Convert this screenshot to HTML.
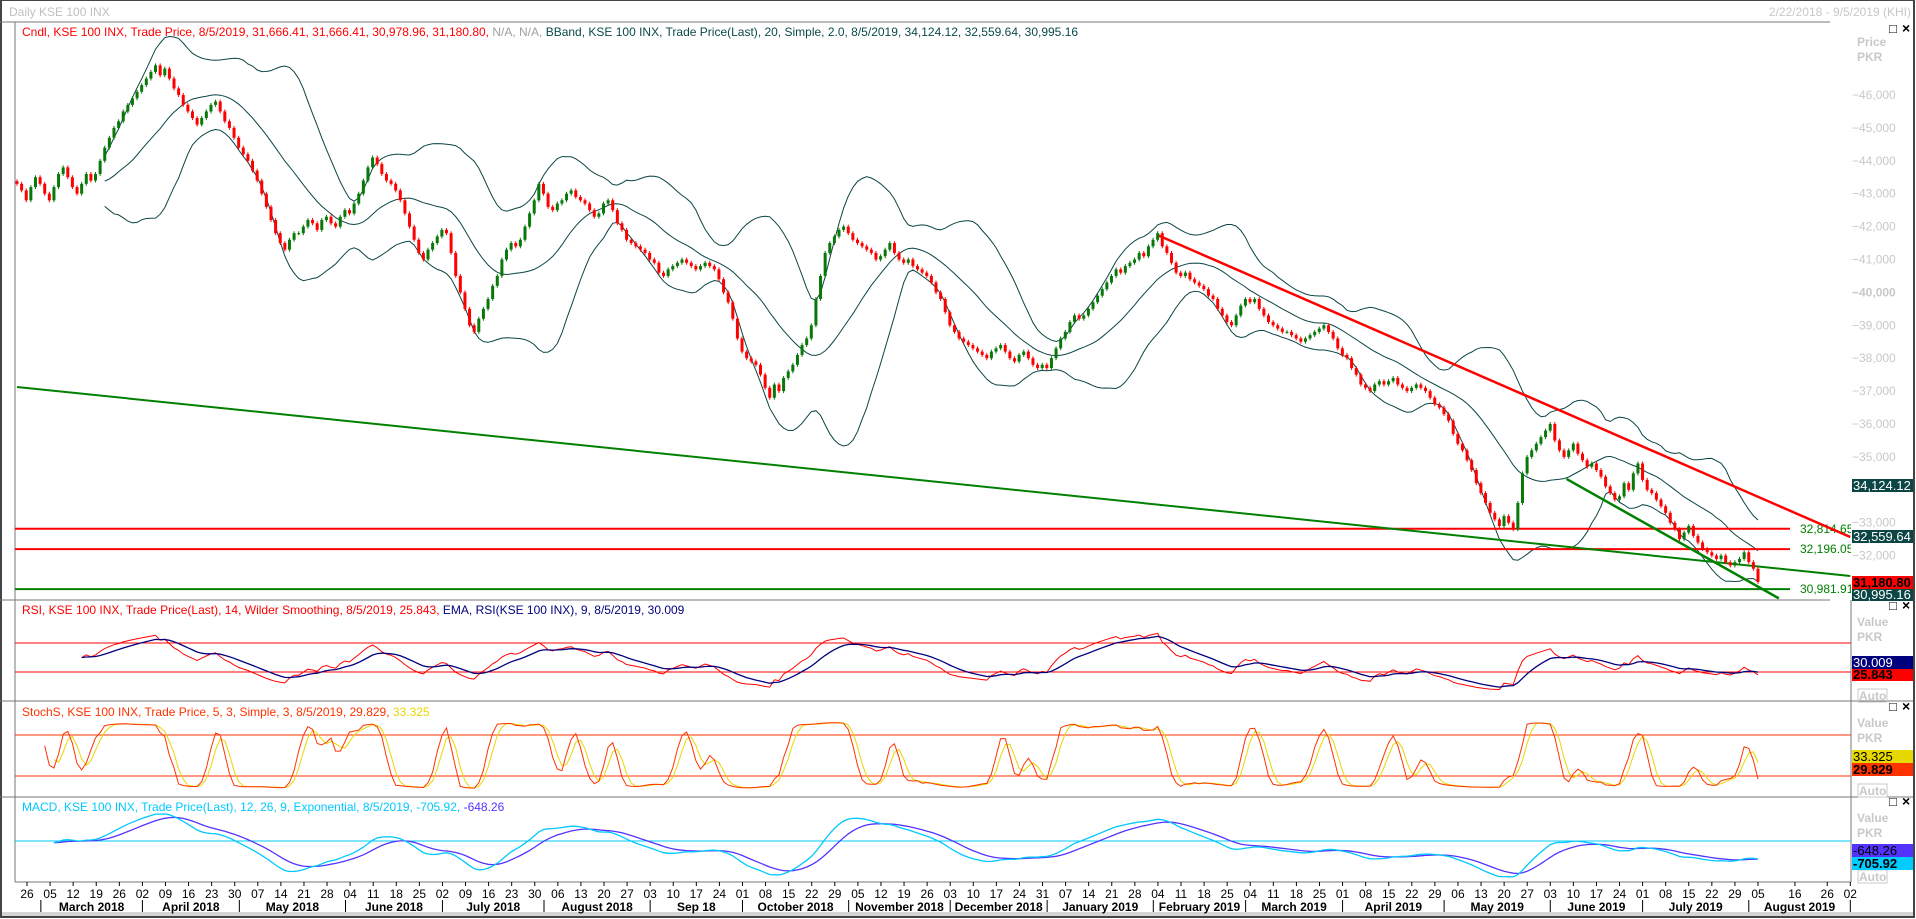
<!DOCTYPE html>
<html><head><meta charset="utf-8"><style>
html,body{margin:0;padding:0;background:#fff;}
svg{display:block;font-family:"Liberation Sans",sans-serif;}
</style></head><body>
<svg id="chart" width="1916" height="919" viewBox="0 0 1916 919" xmlns="http://www.w3.org/2000/svg">
<defs>
<clipPath id="cpMain"><rect x="15" y="23" width="1836" height="577"/></clipPath>
<clipPath id="cpRsi"><rect x="15" y="601" width="1836" height="100"/></clipPath>
<clipPath id="cpSto"><rect x="15" y="702" width="1836" height="95"/></clipPath>
<clipPath id="cpMacd"><rect x="15" y="798" width="1836" height="84"/></clipPath>
</defs>
<rect x="0" y="0" width="1916" height="919" fill="#fff"/>
<rect x="1" y="0" width="1913" height="917" fill="none" stroke="#444" stroke-width="2"/>
<text x="9" y="16" font-size="12" fill="#c0c0c0">Daily KSE 100 INX</text>
<text x="1911" y="16" font-size="12" fill="#c8c8c8" text-anchor="end">2/22/2018 - 9/5/2019 (KHI)</text>
<line x1="0" y1="22" x2="1830" y2="22" stroke="#777" stroke-width="1"/>
<line x1="15" y1="22" x2="15" y2="882" stroke="#777" stroke-width="1"/>
<line x1="1851" y1="600" x2="1851" y2="882" stroke="#777" stroke-width="1"/>
<line x1="0" y1="600" x2="1830" y2="600" stroke="#777"/>
<line x1="0" y1="701" x2="1913" y2="701" stroke="#777"/>
<line x1="0" y1="797" x2="1913" y2="797" stroke="#777"/>
<line x1="15" y1="882" x2="1851" y2="882" stroke="#777"/>
<rect x="2" y="912" width="1911" height="4" fill="#d4d4d4"/>
<text x="22" y="36" font-size="12"><tspan fill="#ff0000">Cndl, KSE 100 INX, Trade Price, 8/5/2019, 31,666.41, 31,666.41, 30,978.96, 31,180.80, </tspan><tspan fill="#a0a0a0">N/A, N/A, </tspan><tspan fill="#0b4a4a"> BBand, KSE 100 INX, Trade Price(Last),  20, Simple, 2.0, 8/5/2019, 34,124.12, 32,559.64, 30,995.16</tspan></text>
<text x="22" y="614" font-size="12"><tspan fill="#ff0000">RSI, KSE 100 INX, Trade Price(Last),  14, Wilder Smoothing, 8/5/2019, 25.843, </tspan><tspan fill="#00007f"> EMA, RSI(KSE 100 INX),  9, 8/5/2019, 30.009</tspan></text>
<text x="22" y="716" font-size="12"><tspan fill="#ff3300">StochS, KSE 100 INX, Trade Price,  5, 3, Simple, 3, 8/5/2019, 29.829, </tspan><tspan fill="#e6d800">33.325</tspan></text>
<text x="22" y="811" font-size="12"><tspan fill="#00c8ff">MACD, KSE 100 INX, Trade Price(Last),  12, 26, 9, Exponential, 8/5/2019, -705.92, </tspan><tspan fill="#5533ff">-648.26</tspan></text>
<g id="gMain" clip-path="url(#cpMain)"></g>
<g id="gRsi" clip-path="url(#cpRsi)"></g>
<g id="gSto" clip-path="url(#cpSto)"></g>
<g id="gMacd" clip-path="url(#cpMacd)"></g>
<g id="gAxis"></g>
<g id="gRight"></g>
</svg>
<script>
// ---- data (closes in hundreds of index points) ----
const closes = [
433,431,428,432,435,433,430,428,432,436,438,435,432,430,433,436,434,
436,440,444,447,450,452,455,457,459,461,463,465,467,469,466,468,
465,462,460,457,455,453,451,453,455,457,458,455,452,450,447,444,442,440,437,434,430,426,422,418,415,413,416,418,
418,420,422,421,419,422,423,421,420,423,425,424,427,430,434,438,441,439,436,434,433,431,428,424,420,416,412,410,
413,415,417,419,418,412,405,400,395,390,388,392,395,398,402,405,410,413,415,414,416,420,424,428,433,
430,426,425,427,428,430,431,429,428,427,425,423,424,427,428,425,421,419,416,415,414,413,412,410,409,
406,405,407,408,409,410,409,408,407,408,409,408,407,404,400,397,392,386,382,380,379,378,375,371,368,372,370,
374,376,378,381,384,386,390,398,405,412,415,417,419,420,418,416,415,414,413,412,410,411,413,415,412,
410,409,410,408,407,406,405,403,400,398,394,390,388,386,385,384,383,382,381,380,382,383,384,382,380,
379,381,382,380,378,377,378,377,380,383,386,388,391,393,392,393,395,397,399,401,403,405,407,406,408,
409,410,412,411,414,416,418,
414,412,409,406,405,406,404,403,402,401,399,398,395,393,391,390,393,396,398,397,398,395,393,391,390,
389,388,388,387,386,385,386,387,388,389,390,388,386,383,381,380,377,375,372,371,370,372,373,372,373,
374,372,371,370,371,372,371,370,368,366,365,363,361,357,354,352,349,346,342,339,336,333,331,329,332,330,328,
336,345,350,352,354,356,358,360,355,352,350,352,354,351,349,347,348,346,344,341,339,337,338,342,340,
345,348,343,340,339,337,335,333,330,328,325,327,329,326,324,322,321,320,319,320,318,317,318,319,321,
318,316,312];
const priceTicks = [46000,45000,44000,43000,42000,41000,40000,39000,38000,37000,36000,35000,33000,32000];
const hLevels = [32814.65, 32196.05];
const hLevelLabels = ["32,814.65","32,196.05"];
const supportLevel = [30981.91];
const supportLabel = ["30,981.91"];
const trendFrac = [0, 1.053];
const trendPrice = [37125, 31380];
const redTrendStart = [0.655, 41745];
const redTrendEnd = [1.053, 32565];
const greenShortStart = [0.890, 34330];
const greenShortEnd = [1.012, 30700];
const dayLabels = ["26","05","12","19","26","02","09","16","23","30","07","14","21","28","04","11","18","25","02","09","16","23","30","06","13","20","27","03","10","17","24","01","08","15","22","29","05","12","19","26","03","10","17","24","31","07","14","21","28","04","11","18","25","04","11","18","25","01","08","15","22","29","06","13","20","27","03","10","17","24","01","08","15","22","29","05","16","26","02"];
const dayWeeks = [0,1,2,3,4,5,6,7,8,9,10,11,12,13,14,15,16,17,18,19,20,21,22,23,24,25,26,27,28,29,30,31,32,33,34,35,36,37,38,39,40,41,42,43,44,45,46,47,48,49,50,51,52,53,54,55,56,57,58,59,60,61,62,63,64,65,66,67,68,69,70,71,72,73,74,75,76.6,78,79];
const monthNames = ["March 2018","April 2018","May 2018","June 2018","July 2018","August 2018","Sep 18","October 2018","November 2018","December 2018","January 2019","February 2019","March 2019","April 2019","May 2019","June 2019","July 2019","August 2019"];
const monthStartWeeks = [0.6,5,9.2,13.8,18,22.4,27,31,35.6,40,44.2,48.8,52.8,57,61.4,66,70,74.6,79];

const NS="http://www.w3.org/2000/svg";
function mk(tag, attrs, parent){const e=document.createElementNS(NS,tag);for(const k in attrs)e.setAttribute(k,attrs[k]);parent.appendChild(e);return e;}
const n=closes.length;
const X0=17, XL=1758;
const step=(XL-X0)/(n-1);
const xi=i=>X0+i*step;
const xf=f=>X0+f*(n-1)*step;
const xw=w=>27+w*23.08;
const py=p=>95+(46000-p)*0.0329;
const ry=v=>672-(v-30)*0.725;
const sy=v=>776-(v-20)*0.683;
const my=v=>841-v*0.031;

const C=closes.map(v=>v*100);
const O=C.map((c,i)=>i?C[i-1]:c+80);
const H=C.map((c,i)=>Math.max(c,O[i])+60);
const L=C.map((c,i)=>Math.min(c,O[i])-60);

const gM=document.getElementById('gMain');
const mid=[],up=[],lo=[];
for(let i=19;i<n;i++){let s=0;for(let j=i-19;j<=i;j++)s+=C[j];const m=s/20;let v=0;for(let j=i-19;j<=i;j++)v+=(C[j]-m)**2;const sd=Math.sqrt(v/20);mid.push([i,m]);up.push([i,m+2*sd]);lo.push([i,m-2*sd]);}
const pts=(a,fy)=>a.map(p=>xi(p[0]).toFixed(1)+","+fy(p[1]).toFixed(1)).join(" ");
[[up,'bband-upper'],[mid,'bband-middle'],[lo,'bband-lower']].forEach(([a,nm])=>{
 const e=mk('polyline',{points:pts(a,py),fill:'none',stroke:'#0b4545','stroke-width':1},gM);
 
 
});
hLevels.forEach((v,k)=>{
 const e=mk('line',{x1:15,x2:1790,y1:py(v),y2:py(v),stroke:'#ff0000','stroke-width':2},gM);
 
 
 const t=mk('text',{x:1800,y:py(v)+4,'font-size':12,fill:'#008000'},gM);t.textContent=hLevelLabels[k];
 
 
});
supportLevel.forEach((v,k)=>{
 const e=mk('line',{x1:15,x2:1790,y1:py(v),y2:py(v),stroke:'#008000','stroke-width':2},gM);
 
 
 const t=mk('text',{x:1800,y:py(v)+4,'font-size':12,fill:'#008000'},gM);t.textContent=supportLabel[k];
 
 
});
let tl=mk('line',{x1:xf(trendFrac[0]),y1:py(trendPrice[0]),x2:xf(trendFrac[1]),y2:py(trendPrice[1]),stroke:'#008000','stroke-width':2},gM);


tl=mk('line',{x1:xf(redTrendStart[0]),y1:py(redTrendStart[1]),x2:xf(redTrendEnd[0]),y2:py(redTrendEnd[1]),stroke:'#ff0000','stroke-width':2.5},gM);


tl=mk('line',{x1:xf(greenShortStart[0]),y1:py(greenShortStart[1]),x2:xf(greenShortEnd[0]),y2:py(greenShortEnd[1]),stroke:'#008000','stroke-width':2.5},gM);


for(let i=0;i<n;i++){
 const col=C[i]>=O[i]?'#087808':'#ff0000';
 const x=xi(i);
 const w=mk('line',{x1:x,x2:x,y1:py(H[i]),y2:py(L[i]),stroke:col,'stroke-width':1},gM);
 
 
 const t=py(Math.max(C[i],O[i])),b=py(Math.min(C[i],O[i]));
 const r=mk('rect',{x:x-1.5,y:t,width:3,height:Math.max(1,b-t),fill:col},gM);
 
 
}
const gR=document.getElementById('gRsi');
[70,30].forEach(v=>{const e=mk('line',{x1:15,x2:1851,y1:ry(v),y2:ry(v),stroke:'#ff0000'},gR);
 
 });
const rsi=[];let ag=0,al=0;
for(let i=1;i<n;i++){const d=C[i]-C[i-1];const g=Math.max(d,0),l=Math.max(-d,0);
 if(i<=14){ag+=g/14;al+=l/14;if(i==14)rsi.push([i,100-100/(1+ag/(al||1e-9))]);}
 else{ag=(ag*13+g)/14;al=(al*13+l)/14;rsi.push([i,100-100/(1+ag/(al||1e-9))]);}}
const rema=[];let e9=rsi[0][1];rsi.forEach(p=>{e9=e9+(p[1]-e9)*0.2;rema.push([p[0],e9]);});
let pl=mk('polyline',{points:pts(rsi,ry),fill:'none',stroke:'#ff0000'},gR);


pl=mk('polyline',{points:pts(rema,ry),fill:'none',stroke:'#00007f','stroke-width':1.3},gR);


const gS=document.getElementById('gSto');
[80,20].forEach(v=>{const e=mk('line',{x1:15,x2:1851,y1:sy(v),y2:sy(v),stroke:'#ff3300'},gS);
 
 });
const raw=[];for(let i=4;i<n;i++){let hh=-1e9,ll=1e9;for(let j=i-4;j<=i;j++){hh=Math.max(hh,H[j]);ll=Math.min(ll,L[j]);}raw.push([i,(C[i]-ll)/(hh-ll)*100]);}
const sma3=a=>a.slice(2).map((p,k)=>[p[0],(a[k][1]+a[k+1][1]+p[1])/3]);
const kS=sma3(raw),dS=sma3(kS);
pl=mk('polyline',{points:pts(dS,sy),fill:'none',stroke:'#e6d800'},gS);


pl=mk('polyline',{points:pts(kS,sy),fill:'none',stroke:'#ff3300'},gS);


const gC=document.getElementById('gMacd');
let zl=mk('line',{x1:15,x2:1851,y1:my(0),y2:my(0),stroke:'#00c8ff'},gC);


let e12=C[0],e26=C[0];const macd=[];
for(let i=0;i<n;i++){e12+= (C[i]-e12)*2/13;e26+=(C[i]-e26)*2/27;if(i>=8)macd.push([i,e12-e26]);}
const sig=[];let es=macd[0][1];macd.forEach(p=>{es+=(p[1]-es)*0.2;sig.push([p[0],es]);});
pl=mk('polyline',{points:pts(sig,my),fill:'none',stroke:'#5533ff','stroke-width':1.3},gC);


pl=mk('polyline',{points:pts(macd,my),fill:'none',stroke:'#00c8ff','stroke-width':1.3},gC);


const gA=document.getElementById('gAxis');
dayLabels.forEach((s,k)=>{const x=xw(dayWeeks[k]);
 const tk=mk('line',{x1:x,x2:x,y1:882,y2:886,stroke:'#000'},gA);
 
 
 const t=mk('text',{x:x,y:898,'font-size':12,'text-anchor':'middle',fill:'#000'},gA);t.textContent=s;
 
 });
monthStartWeeks.forEach((w,k)=>{const x=xw(w);
 const sp=mk('line',{x1:x,x2:x,y1:900,y2:912,stroke:'#000'},gA);
 
 
 if(k<monthNames.length){const x2=xw(monthStartWeeks[k+1]);
 const t=mk('text',{x:(x+x2)/2,y:911,'font-size':12,'font-weight':'bold','text-anchor':'middle',fill:'#000'},gA);t.textContent=monthNames[k];
 
 }});
const gRt=document.getElementById('gRight');
function txt(x,y,s,attrs,name){const t=mk('text',Object.assign({x:x,y:y,'font-size':12},attrs),gRt);t.textContent=s;return t;}
priceTicks.forEach(p=>{txt(1852,py(p)+4,'\u2212'+p.toLocaleString('en-US'),{fill:'#c8c8c8','font-weight':p==40000?'bold':'normal'},'y-tick-label');});
function icons(y){txt(1889,y,'\u25A1',{fill:'#000','font-size':13},'maximize-icon');txt(1902,y,'\u00D7',{fill:'#000','font-size':14,'font-weight':'bold'},'close-icon');}
icons(33);icons(610);icons(711);icons(806);
txt(1857,46,'Price',{fill:'#c8c8c8','font-weight':'bold'},'y-axis-title');
txt(1857,61,'PKR',{fill:'#c8c8c8','font-weight':'bold'},'y-axis-unit');
[[622,637,697],[723,738,792],[818,833,878]].forEach(a=>{txt(1857,a[0]+4,'Value',{fill:'#c8c8c8','font-weight':'bold'},'panel-axis-title');txt(1857,a[1]+4,'PKR',{fill:'#c8c8c8','font-weight':'bold'},'panel-axis-unit');
 const r=mk('rect',{x:1858,y:a[2]-8,width:29,height:13,fill:'none',stroke:'#c8c8c8'},gRt);
 txt(1859,a[2]+3,'Auto',{fill:'#c8c8c8','font-weight':'bold'},'auto-label');});
function box(y,h,bg,fg,s,name,bold){const r=mk('rect',{x:1852,y:y,width:61,height:h,fill:bg},gRt);txt(1853,y+h-2,s,{fill:fg,'font-size':13,'font-weight':bold?'bold':'normal'},name);}
box(479,13,'#0b4545','#fff','34,124.12','bband-upper-value');
box(530,13,'#0b4545','#fff','32,559.64','bband-middle-value');
box(576,13,'#ff0000','#000','31,180.80','last-price-value',true);
box(589,12,'#0b4545','#fff','30,995.16','bband-lower-value');
box(656,13,'#00007f','#fff','30.009','rsi-ema-value');
box(669,12,'#ff0000','#000','25.843','rsi-value',true);
box(750,13,'#e6d800','#000','33.325','stoch-d-value');
box(763,13,'#ff3300','#000','29.829','stoch-k-value',true);
box(844,13,'#5533ff','#000','-648.26','macd-signal-value');
box(857,13,'#00ccff','#000','-705.92','macd-value',true);
</script>
</body></html>
